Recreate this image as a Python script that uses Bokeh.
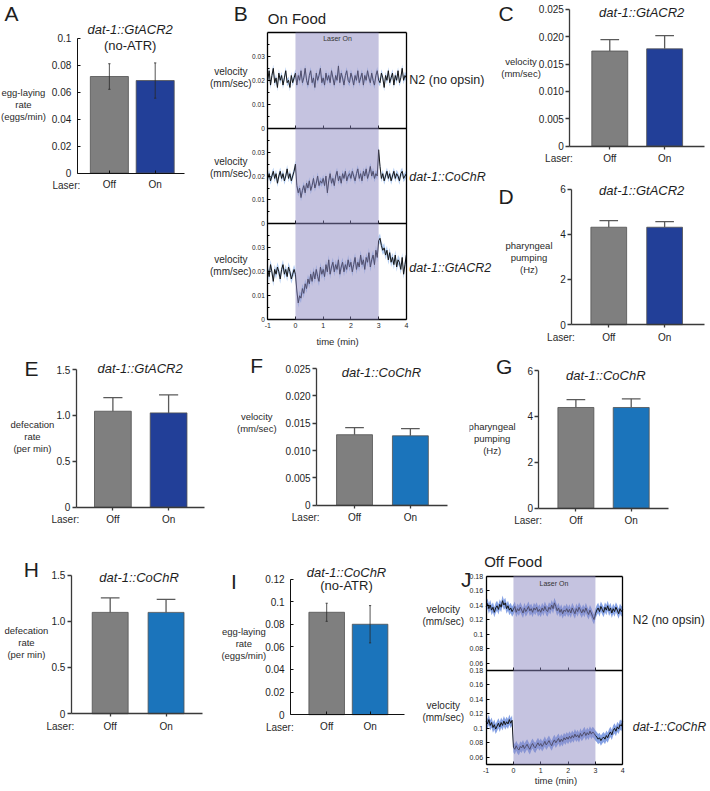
import numpy as np
from bokeh.plotting import figure
from bokeh.layouts import row, column
from bokeh.models import (Range1d, FixedTicker, CustomJSTickFormatter, Label,
                          BoxAnnotation, Spacer, LinearAxis)
from bokeh.embed import file_html
from bokeh.resources import INLINE

# ---------------------------------------------------------------- data
laser = ["Off", "On"]

A_mean = [0.0717, 0.0687]; A_err = [0.0095, 0.0131]
C_mean = [0.0174, 0.0178]; C_err = [0.0021, 0.0024]
D_mean = [4.31, 4.31];     D_err = [0.29, 0.25]
E_mean = [1.046, 1.028];   E_err = [0.149, 0.196]
F_mean = [0.0129, 0.0127]; F_err = [0.0013, 0.0013]
G_mean = [4.39, 4.39];     G_err = [0.34, 0.38]
H_mean = [1.096, 1.096];   H_err = [0.156, 0.141]
I_mean = [0.0906, 0.0800]; I_err = [0.0080, 0.0165]

A_ticks = [0, 0.02, 0.04, 0.06, 0.08, 0.1]
C_ticks = [0, 0.005, 0.01, 0.015, 0.02, 0.025]
D_ticks = [0, 2, 4, 6]
E_ticks = [0, 0.5, 1.0, 1.5]
I_ticks = [0, 0.02, 0.04, 0.06, 0.08, 0.1, 0.12]
B_ticks = [0, 0.01, 0.02, 0.03]
B_minor = [0.005, 0.015, 0.025, 0.035]
J_ticks = [0.06, 0.08, 0.1, 0.12, 0.14, 0.16, 0.18]
T_ticks = [-1, 0, 1, 2, 3, 4]

laser_window = [0, 3]
time_min = np.round(np.linspace(-1, 4, 101), 2).tolist()

# On food (panel B)
B_n2 = [0.020, 0.024, 0.018, 0.022, 0.025, 0.019, 0.021, 0.017, 0.023, 0.020,
        0.022, 0.018, 0.021, 0.024, 0.019, 0.020, 0.017, 0.022, 0.019, 0.021,
        0.023, 0.018, 0.022, 0.020, 0.024, 0.019, 0.021, 0.025, 0.020, 0.018,
        0.022, 0.024, 0.019, 0.021, 0.017, 0.023, 0.020, 0.022, 0.025, 0.019,
        0.021, 0.018, 0.023, 0.020, 0.022, 0.019, 0.024, 0.021, 0.018, 0.022,
        0.020, 0.026, 0.019, 0.023, 0.021, 0.018, 0.022, 0.024, 0.020, 0.019,
        0.023, 0.021, 0.018, 0.022, 0.020, 0.024, 0.019, 0.021, 0.023, 0.018,
        0.022, 0.020, 0.024, 0.021, 0.019, 0.023, 0.020, 0.018, 0.022, 0.024,
        0.020, 0.019, 0.023, 0.021, 0.017, 0.022, 0.020, 0.024, 0.019, 0.021,
        0.023, 0.018, 0.022, 0.020, 0.024, 0.019, 0.021, 0.025, 0.020, 0.022,
        0.021]
B_cochr = [0.019, 0.021, 0.018, 0.020, 0.022, 0.019, 0.021, 0.017, 0.020, 0.022,
           0.019, 0.021, 0.018, 0.020, 0.023, 0.019, 0.021, 0.018, 0.020, 0.022,
           0.025, 0.016, 0.013, 0.015, 0.011, 0.014, 0.016, 0.013, 0.017, 0.015,
           0.018, 0.014, 0.016, 0.019, 0.015, 0.017, 0.020, 0.016, 0.018, 0.017,
           0.019, 0.016, 0.020, 0.013, 0.018, 0.021, 0.017, 0.019, 0.016, 0.020,
           0.022, 0.018, 0.020, 0.017, 0.021, 0.019, 0.022, 0.018, 0.020, 0.021,
           0.019, 0.022, 0.020, 0.018, 0.021, 0.023, 0.019, 0.021, 0.018, 0.022,
           0.020, 0.023, 0.019, 0.021, 0.024, 0.020, 0.022, 0.019, 0.021, 0.020,
           0.031, 0.024, 0.019, 0.021, 0.018, 0.020, 0.022, 0.019, 0.021, 0.018,
           0.020, 0.022, 0.019, 0.021, 0.020, 0.018, 0.021, 0.022, 0.019, 0.020,
           0.021]
B_gtacr2 = [0.021, 0.018, 0.023, 0.020, 0.016, 0.021, 0.019, 0.022, 0.020, 0.017,
            0.021, 0.023, 0.019, 0.021, 0.018, 0.022, 0.020, 0.017, 0.019, 0.021,
            0.019, 0.012, 0.007, 0.010, 0.009, 0.013, 0.011, 0.015, 0.013, 0.017,
            0.015, 0.019, 0.016, 0.020, 0.017, 0.021, 0.018, 0.016, 0.022, 0.019,
            0.021, 0.018, 0.023, 0.020, 0.025, 0.019, 0.022, 0.024, 0.020, 0.023,
            0.021, 0.025, 0.019, 0.022, 0.024, 0.020, 0.023, 0.021, 0.025, 0.022,
            0.024, 0.020, 0.023, 0.026, 0.021, 0.024, 0.022, 0.027, 0.023, 0.025,
            0.021, 0.026, 0.024, 0.028, 0.022, 0.025, 0.027, 0.023, 0.029, 0.026,
            0.033, 0.034, 0.031, 0.029, 0.030, 0.027, 0.029, 0.025, 0.028, 0.024,
            0.026, 0.023, 0.027, 0.022, 0.025, 0.024, 0.021, 0.026, 0.019, 0.023,
            0.027]
B_sem = [0.0016, 0.0016, 0.0020]

# Off food (panel J)
J_n2 = [0.138, 0.142, 0.135, 0.140, 0.133, 0.137, 0.130, 0.136, 0.139, 0.134,
        0.141, 0.137, 0.146, 0.140, 0.143, 0.135, 0.139, 0.133, 0.136, 0.131,
        0.134, 0.138, 0.130, 0.135, 0.132, 0.137, 0.133, 0.129, 0.136, 0.131,
        0.134, 0.138, 0.132, 0.135, 0.130, 0.136, 0.133, 0.137, 0.131, 0.134,
        0.130, 0.136, 0.132, 0.138, 0.133, 0.131, 0.137, 0.134, 0.140, 0.135,
        0.143, 0.138, 0.132, 0.136, 0.130, 0.134, 0.128, 0.133, 0.131, 0.135,
        0.130, 0.134, 0.129, 0.136, 0.132, 0.128, 0.135, 0.131, 0.137, 0.133,
        0.129, 0.134, 0.130, 0.136, 0.131, 0.127, 0.133, 0.129, 0.124, 0.120,
        0.128, 0.133, 0.136, 0.131, 0.138, 0.134, 0.130, 0.137, 0.133, 0.139,
        0.132, 0.136, 0.129, 0.135, 0.131, 0.137, 0.133, 0.128, 0.135, 0.131,
        0.134]
J_cochr = [0.110, 0.106, 0.112, 0.104, 0.108, 0.101, 0.105, 0.099, 0.103, 0.107,
           0.102, 0.108, 0.104, 0.110, 0.105, 0.109, 0.106, 0.112, 0.107, 0.111,
           0.074, 0.071, 0.076, 0.072, 0.070, 0.075, 0.073, 0.077, 0.072, 0.075,
           0.078, 0.074, 0.071, 0.076, 0.079, 0.075, 0.073, 0.077, 0.080, 0.076,
           0.079, 0.075, 0.078, 0.082, 0.077, 0.080, 0.083, 0.079, 0.076, 0.081,
           0.084, 0.080, 0.083, 0.086, 0.081, 0.085, 0.082, 0.087, 0.084, 0.088,
           0.085, 0.089, 0.086, 0.090, 0.087, 0.092, 0.088, 0.091, 0.087, 0.093,
           0.089, 0.092, 0.095, 0.090, 0.094, 0.091, 0.096, 0.092, 0.095, 0.093,
           0.090, 0.088, 0.085, 0.087, 0.083, 0.086, 0.088, 0.085, 0.090, 0.087,
           0.092, 0.095, 0.091, 0.097, 0.100, 0.096, 0.102, 0.099, 0.105, 0.103,
           0.109]
J_sem = [0.007, 0.007]

# ---------------------------------------------------------------- style
FONT = "Liberation Sans"
GRAY = "#7f7f7f"
BLUE_G = "#223f98"
BLUE_C = "#1b74bb"
SHADE = "#8c88c2"
TXT = "#1e1e1e"

SX = 708 / 710
SY = 789 / 791


def RX(v):
    return int(round(v * SX))


def RY(v):
    return int(round(v * SY))


def panel(box, frame, xr, yr):
    """Figure whose frame is the whole box; the data region sits at `frame`
    (reference pixels) and axes are pinned there with fixed_location."""
    x0, y0, x1, y1 = box
    fl, ft, fr, fb = frame
    W = RX(x1) - RX(x0)
    H = RY(y1) - RY(y0)
    L = fl * SX - RX(x0)
    R = fr * SX - RX(x0)
    T = ft * SY - RY(y0)
    B = fb * SY - RY(y0)
    ux = (xr[1] - xr[0]) / (R - L)
    uy = (yr[1] - yr[0]) / (B - T)
    xs0 = xr[0] - L * ux
    xs1 = xr[1] + (W - R) * ux
    ys1 = yr[1] + T * uy
    ys0 = yr[0] - (H - B) * uy
    p = figure(width=W, height=H, x_range=Range1d(xs0, xs1),
               y_range=Range1d(ys0, ys1), output_backend="svg",
               toolbar_location=None, min_border=0,
               min_border_left=0, min_border_right=0,
               min_border_top=0, min_border_bottom=0)
    p.grid.visible = False
    p.outline_line_color = None
    p.background_fill_color = "white"
    p.border_fill_color = "white"

    def conv(x, y):
        px = x * SX - RX(x0)
        py = y * SY - RY(y0)
        return xs0 + px * ux, ys1 - py * uy
    return p, conv, (ys0, ys1)


def text(p, conv, x, y, s, size=10, align="center", style="normal",
         color=TXT, baseline="middle"):
    dx, dy = conv(x, y)
    p.add_layout(Label(x=dx, y=dy, text=s, text_font=FONT,
                       text_font_size=f"{size}px", text_align=align,
                       text_baseline=baseline, text_font_style=style,
                       text_color=color, text_line_height=1.1))


def set_ticks(axis, positions, labels, minor=()):
    axis.ticker = FixedTicker(ticks=list(positions), minor_ticks=list(minor))
    axis.formatter = CustomJSTickFormatter(
        args=dict(pos=list(positions), labs=list(labels)),
        code="for (let i = 0; i < pos.length; i++) {"
             " if (Math.abs(pos[i] - tick) < 1e-9) return labs[i]; }"
             " return '';")


def style_axis(ax, color, width, tin, tout, size, standoff):
    ax.axis_line_color = color
    ax.axis_line_width = width
    ax.major_tick_line_color = color
    ax.major_tick_line_width = width
    ax.major_tick_in = tin
    ax.major_tick_out = tout
    ax.minor_tick_line_color = color
    ax.minor_tick_in = max(tin - 1, 0)
    ax.minor_tick_out = 0
    ax.major_label_text_font = FONT
    ax.major_label_text_font_size = f"{size}px"
    ax.major_label_text_color = TXT
    ax.major_label_standoff = standoff


def fmt_trim(v):
    s = f"{v:.4f}".rstrip("0").rstrip(".")
    return s if s not in ("", "-0") else "0"


def fmt_fixed(n):
    def f(v):
        return "0" if abs(v) < 1e-12 else f"{v:.{n}f}"
    return f


def bar_panel(s):
    xr, yr = s["xr"], s["yr"]
    p, conv, _ = panel(s["box"], s["frame"], xr, yr)
    xs = list(range(len(laser)))
    means, errs, w = s["mean"], s["err"], s["w"]
    p.vbar(x=xs, top=means, bottom=0, width=w, fill_color=[GRAY, s["on"]],
           line_color="#505050", line_width=0.8)
    tops = [m + e for m, e in zip(means, errs)]
    if s["matlab"]:
        lows = [m - e for m, e in zip(means, errs)]
        ec = "#2a2a2a"
        p.segment(x0=xs, y0=lows, x1=xs, y1=tops, line_color=ec, line_width=0.8)
        cw = 0.025
        for yy in (lows, tops):
            p.segment(x0=[x - cw for x in xs], y0=yy, x1=[x + cw for x in xs],
                      y1=yy, line_color=ec, line_width=0.8)
        acol, aw = "#111111", 1.0
        style_axis(p.yaxis[0], acol, aw, 3, 0, 10, 6)
        style_axis(p.xaxis[0], acol, aw, 3, 0, 10, 6)
    else:
        ec = "#5a5a5a"
        p.segment(x0=xs, y0=means, x1=xs, y1=tops, line_color=ec, line_width=1.3)
        cw = w * 0.26
        p.segment(x0=[x - cw for x in xs], y0=tops, x1=[x + cw for x in xs],
                  y1=tops, line_color=ec, line_width=1.3)
        acol, aw = "#3a3a3a", 1.3
        style_axis(p.yaxis[0], acol, aw, 0, 4, 10, 2)
        style_axis(p.xaxis[0], acol, aw, 0, 3, 10, 4)
    p.yaxis[0].fixed_location = xr[0]
    p.yaxis[0].bounds = (yr[0], yr[1])
    p.xaxis[0].fixed_location = yr[0]
    p.xaxis[0].bounds = (xr[0], xr[1])
    set_ticks(p.yaxis[0], s["ticks"], [s["fmt"](v) for v in s["ticks"]])
    set_ticks(p.xaxis[0], xs, laser)

    fl, ft, fr, fb = s["frame"]
    text(p, conv, s["letter"][0], s["letter"][1], s["key"], size=21)
    for line, style, ty in s["title"]:
        text(p, conv, s["tx"], ty, line, size=13, style=style)
    text(p, conv, s["ylab_xy"][0], s["ylab_xy"][1], s["ylab"], size=9.5,
         color="#2a2a2a")
    text(p, conv, fl + 3, fb + 12.5, "Laser:", size=10, align="right",
         color="#2a2a2a")
    return p


def blank_axis(loc, bounds, ticks=(), tin=0):
    ax = LinearAxis(fixed_location=loc, bounds=bounds,
                    ticker=FixedTicker(ticks=list(ticks)),
                    formatter=CustomJSTickFormatter(code="return '';"))
    ax.axis_line_color = "black"
    ax.axis_line_width = 1.3
    ax.major_tick_line_color = "black"
    ax.major_tick_in = tin
    ax.major_tick_out = 0
    ax.minor_tick_line_color = None
    ax.major_label_text_font_size = "1px"
    return ax


def trace_panel(key, box, frame, lo, hi, series, sems, ticks, minor, tick_size,
                band, letter, heading, heading_xy, ylab_xy, names, name_size,
                laser_xy, time_xy):
    n = len(series)
    span = hi - lo
    main_lo = lo - (n - 1) * span
    p, conv, (ys0, ys1) = panel(box, frame, (-1, 4), (main_lo, hi))
    p.extra_y_ranges = {f"panel{k}": Range1d(ys0 + k * span, ys1 + k * span)
                        for k in range(1, n)}
    for k, (vals, sm) in enumerate(zip(series, sems)):
        rn = "default" if k == 0 else f"panel{k}"
        lower = [v - sm for v in vals]
        upper = [v + sm for v in vals]
        p.varea(x=time_min, y1=lower, y2=upper, fill_color=band,
                y_range_name=rn)
        p.line(x=time_min, y=vals, line_color="#151515", line_width=1,
               y_range_name=rn)
    p.add_layout(BoxAnnotation(left=laser_window[0], right=laser_window[1],
                               bottom=main_lo, top=hi,
                               fill_color=SHADE, fill_alpha=0.5,
                               line_color=None))

    pos, labs, mpos = [], [], []
    for k in range(n):
        for t in ticks:
            pos.append(t - k * span)
            labs.append(fmt_trim(t))
        for t in minor:
            mpos.append(t - k * span)
    ya = p.yaxis[0]
    style_axis(ya, "black", 1.3, 3, 0, tick_size, 3)
    ya.major_tick_line_width = 1
    ya.minor_tick_line_width = 1
    ya.fixed_location = -1
    ya.bounds = (main_lo, hi)
    set_ticks(ya, pos, labs, mpos)

    xa = p.xaxis[0]
    style_axis(xa, "black", 1.3, 3, 0, 7, 3)
    xa.major_tick_line_width = 1
    xa.fixed_location = main_lo
    xa.bounds = (-1, 4)
    set_ticks(xa, T_ticks, [str(v) for v in T_ticks])

    p.add_layout(blank_axis(hi, (-1, 4)), "above")
    p.add_layout(blank_axis(4, (main_lo, hi)), "right")
    for k in range(1, n):
        p.add_layout(blank_axis(lo - (k - 1) * span, (-1, 4), T_ticks, 3),
                     "below")

    text(p, conv, letter[0], letter[1], key, size=21)
    text(p, conv, heading_xy[0], heading_xy[1], heading, size=15, align="left")
    text(p, conv, laser_xy[0], laser_xy[1], "Laser On", size=7, color="#333333")
    for (yx, yy) in ylab_xy:
        text(p, conv, yx, yy, "velocity\n(mm/sec)", size=10, color="#2a2a2a")
    for (nm, style, nx, ny) in names:
        text(p, conv, nx, ny, nm, size=name_size, align="left", style=style)
    text(p, conv, time_xy[0], time_xy[1], "time (min)", size=9.5, color="#2a2a2a")
    return p


GP3 = fmt_fixed(3)
GP1 = fmt_fixed(1)
GP0 = fmt_fixed(0)

specs = {
    "A": dict(box=(0, 0, 205, 200), frame=(77, 38, 185, 173), xr=(-0.70, 1.65),
              yr=(0, 0.1), w=0.83, matlab=True, mean=A_mean, err=A_err,
              on=BLUE_G, ticks=A_ticks, fmt=fmt_trim, letter=(11, 13), tx=130,
              title=[("dat-1::GtACR2", "italic", 29), ("(no-ATR)", "normal", 45)],
              ylab="egg-laying\nrate\n(eggs/min)", ylab_xy=(23, 104)),
    "C": dict(box=(497, 0, 710, 176), frame=(571, 9, 706, 146), xr=(-0.727, 1.727),
              yr=(0, 0.025), w=0.655, matlab=False, mean=C_mean, err=C_err,
              on=BLUE_G, ticks=C_ticks, fmt=GP3, letter=(507, 13), tx=643,
              title=[("dat-1::GtACR2", "italic", 12)],
              ylab="velocity\n(mm/sec)", ylab_xy=(522, 67)),
    "D": dict(box=(497, 176, 710, 350), frame=(573, 189, 706, 325), xr=(-0.66, 1.714),
              yr=(0, 6), w=0.64, matlab=False, mean=D_mean, err=D_err,
              on=BLUE_G, ticks=D_ticks, fmt=GP0, letter=(507, 196), tx=643,
              title=[("dat-1::GtACR2", "italic", 190)],
              ylab="pharyngeal\npumping\n(Hz)", ylab_xy=(530, 258)),
    "E": dict(box=(0, 350, 230, 550), frame=(76, 370, 205, 508), xr=(-0.657, 1.652),
              yr=(0, 1.5), w=0.66, matlab=False, mean=E_mean, err=E_err,
              on=BLUE_G, ticks=E_ticks, fmt=GP1, letter=(31, 369), tx=140,
              title=[("dat-1::GtACR2", "italic", 369)],
              ylab="defecation\nrate\n(per min)", ylab_xy=(32, 437)),
    "F": dict(box=(230, 350, 470, 550), frame=(317, 369, 448, 506), xr=(-0.679, 1.66),
              yr=(0, 0.025), w=0.643, matlab=False, mean=F_mean, err=F_err,
              on=BLUE_C, ticks=C_ticks, fmt=GP3, letter=(257, 366), tx=382,
              title=[("dat-1::CoChR", "italic", 373)],
              ylab="velocity\n(mm/sec)", ylab_xy=(257, 423)),
    "G": dict(box=(470, 350, 710, 550), frame=(540, 371, 670, 509), xr=(-0.667, 1.676),
              yr=(0, 6), w=0.65, matlab=False, mean=G_mean, err=G_err,
              on=BLUE_C, ticks=D_ticks, fmt=GP0, letter=(505, 367), tx=607,
              title=[("dat-1::CoChR", "italic", 376)],
              ylab="pharyngeal\npumping\n(Hz)", ylab_xy=(493, 439)),
    "H": dict(box=(0, 550, 215, 791), frame=(71, 576, 203, 715), xr=(-0.696, 1.66),
              yr=(0, 1.5), w=0.643, matlab=False, mean=H_mean, err=H_err,
              on=BLUE_C, ticks=E_ticks, fmt=GP1, letter=(31, 570), tx=139,
              title=[("dat-1::CoChR", "italic", 578)],
              ylab="defecation\nrate\n(per min)", ylab_xy=(26, 644)),
    "I": dict(box=(215, 550, 418, 791), frame=(291, 580, 405, 716), xr=(-0.83, 1.79),
              yr=(0, 0.12), w=0.82, matlab=True, mean=I_mean, err=I_err,
              on=BLUE_C, ticks=I_ticks, fmt=fmt_trim, letter=(234, 582), tx=347,
              title=[("dat-1::CoChR", "italic", 573), ("(no-ATR)", "normal", 586)],
              ylab="egg-laying\nrate\n(eggs/min)", ylab_xy=(244, 645)),
}

figs = {}
for k, s in specs.items():
    s["key"] = k
    figs[k] = bar_panel(s)

figB = trace_panel("B", (205, 0, 497, 350), (268, 32, 407, 320), 0.0, 0.04,
                   [B_n2, B_cochr, B_gtacr2], B_sem, B_ticks, B_minor, 6.5,
                   "#b3cdf2", (241, 13), "On Food", (268, 18),
                   [(231, 77), (231, 167), (231, 266)],
                   [("N2 (no opsin)", "normal", 410, 80),
                    ("dat-1::CoChR", "italic", 410, 177),
                    ("dat-1::GtACR2", "italic", 410, 268)], 12.5,
                   (338, 38), (338, 342))

figJ = trace_panel("J", (418, 550, 710, 791), (487, 577, 624, 766), 0.05, 0.18,
                   [J_n2, J_cochr], J_sem, J_ticks, [], 7,
                   "#86a2e4", (467, 580), "Off Food", (485, 562),
                   [(444, 617), (444, 713)],
                   [("N2 (no opsin)", "normal", 634, 621),
                    ("dat-1::CoChR", "italic", 634, 728)], 12,
                   (555, 584), (557, 782))

spacerA = Spacer(width=RX(205) - RX(0), height=RY(350) - RY(200))
row1 = row(column(figs["A"], spacerA), figB, column(figs["C"], figs["D"]))
row2 = row(figs["E"], figs["F"], figs["G"])
row3 = row(figs["H"], figs["I"], figJ)
layout = column(row1, row2, row3)

open("out.html", "w").write(file_html(layout, INLINE))
